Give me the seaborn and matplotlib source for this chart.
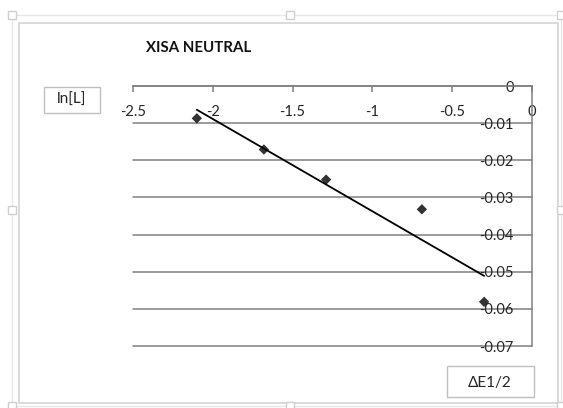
import matplotlib
matplotlib.use("Agg")
import matplotlib.pyplot as plt
from matplotlib.patches import Rectangle
import numpy as np
import pandas as pd
import seaborn as sns

# ---- data ----
delta_e = [-2.10, -1.68, -1.29, -0.69, -0.30]
ln_l = [-0.0087, -0.0171, -0.0252, -0.0332, -0.0581]
x_ticks = [-2.5, -2.0, -1.5, -1.0, -0.5, 0.0]
x_tick_labels = ["-2.5", "-2", "-1.5", "-1", "-0.5", "0"]
y_ticks = [0.0, -0.01, -0.02, -0.03, -0.04, -0.05, -0.06, -0.07]
y_tick_labels = ["0", "-0.01", "-0.02", "-0.03", "-0.04", "-0.05", "-0.06", "-0.07"]
title = "XISA NEUTRAL"
y_title = "ln[L]"
x_title = "\u0394E1/2"

df = pd.DataFrame({"dE": delta_e, "lnL": ln_l})

sns.set_theme(style="white")
plt.rcParams["font.family"] = ["Lato", "DejaVu Sans"]

W, H = 563, 408
fig = plt.figure(figsize=(W / 100, H / 100), dpi=100)

def fx(px):
    return px / W

def fy(py):
    return 1 - py / H

grey = "#808080"
txt = "#262626"

ax = fig.add_axes([fx(133), fy(346), fx(532) - fx(133), fy(86) - fy(346)])
sns.regplot(data=df, x="dE", y="lnL", ax=ax, ci=None,
            marker="D", scatter_kws=dict(color="black", s=28, edgecolors="none", zorder=4),
            line_kws=dict(color="black", lw=1.3, zorder=3))

ax.set_xlim(-2.5, 0)
ax.set_ylim(-0.07, 0)
ax.set_xlabel("")
ax.set_ylabel("")

ax.set_xticks(x_ticks)
ax.set_xticklabels(x_tick_labels)
ax.set_yticks(y_ticks)
ax.set_yticklabels(y_tick_labels)

for s in ["left", "bottom"]:
    ax.spines[s].set_visible(False)
for s in ["top", "right"]:
    ax.spines[s].set_visible(True)
    ax.spines[s].set_color(grey)
    ax.spines[s].set_linewidth(1.1)

ax.yaxis.grid(True, color=grey, lw=1.1)
ax.xaxis.grid(False)
ax.set_axisbelow(True)
for gl in ax.get_ygridlines():
    gl.set_clip_on(False)

ax.tick_params(axis="x", bottom=False, top=True, labelbottom=False, labeltop=True,
               direction="in", length=4, width=1.1, color=grey, pad=-24,
               labelsize=10.5, labelcolor=txt)
ax.tick_params(axis="y", left=False, right=False, labelleft=False, labelright=True,
               pad=-19, labelsize=10.5, labelcolor=txt)
for lab in ax.yaxis.get_ticklabels():
    lab.set_horizontalalignment("right")

# title
fig.text(fx(146), fy(48), title, fontsize=10.8, fontweight="bold", color="#111111",
         ha="left", va="center")

# axis title boxes
box_col = "#bfbfbf"
fig.patches.append(Rectangle((fx(44), fy(113)), fx(100) - fx(44), fy(87) - fy(113),
                             transform=fig.transFigure, fill=False, ec=box_col, lw=1.0))
fig.text(fx(72), fy(100), y_title, fontsize=11, color=txt, ha="center", va="center")
fig.patches.append(Rectangle((fx(447), fy(397)), fx(534) - fx(447), fy(366) - fy(397),
                             transform=fig.transFigure, fill=False, ec=box_col, lw=1.0))
fig.text(fx(490), fy(383), x_title, fontsize=11, color=txt, ha="center", va="center")

# chart frame (selection outline)
frame = "#d4d4d4"
fig.patches.append(Rectangle((fx(19), fy(403)), fx(558) - fx(19), fy(23) - fy(403),
                             transform=fig.transFigure, fill=False, ec=frame, lw=1.2))
fig.patches.append(Rectangle((fx(12), fy(406)), fx(561) - fx(12), fy(15) - fy(406),
                             transform=fig.transFigure, fill=False, ec="#e6e6e6", lw=1.0))
for (hx, hy) in [(12, 15), (290, 15), (561, 15), (12, 210), (561, 210), (12, 406), (290, 406), (561, 406)]:
    fig.patches.append(Rectangle((fx(hx - 4), fy(hy + 4)), fx(8), 8 / H,
                                 transform=fig.transFigure, fc="white", ec="#cfcfcf", lw=1.0))

fig.savefig("out.png", dpi=100)
